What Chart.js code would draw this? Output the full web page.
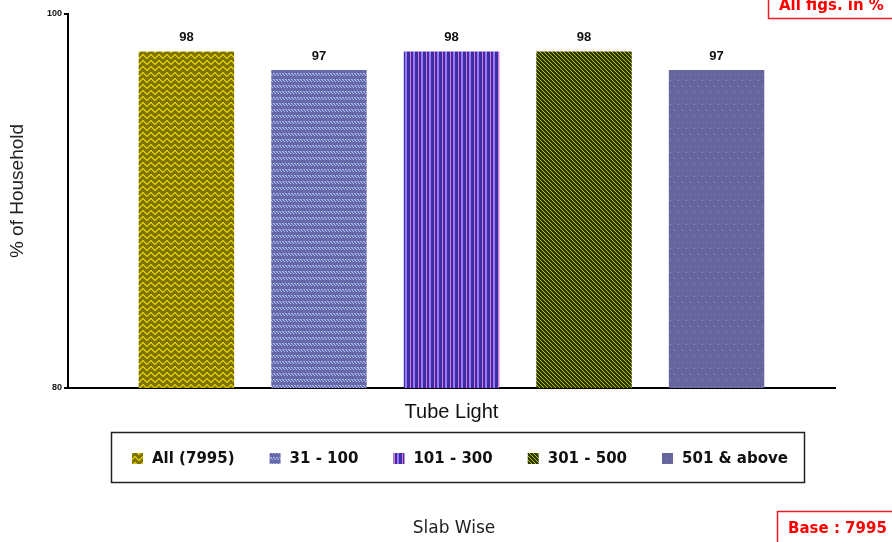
<!DOCTYPE html>
<html>
<head>
<meta charset="utf-8">
<script src="https://cdn.jsdelivr.net/npm/chart.js@4"></script>
<style>
  body { margin: 0; background: #fff; }
  #chart { display: block; }
</style>
</head>
<body>
<canvas id="chart" width="892" height="542"></canvas>
<script>
const categories = ['Tube Light'];
const slabs = ['All (7995)', '31 - 100', '101 - 300', '301 - 500', '501 & above'];
const values = [98, 97, 98, 98, 97];
const yTicks = [80, 100];

const canvas = document.getElementById('chart');
const ctx = canvas.getContext('2d');

function makePattern(w, h, draw) {
  const c = document.createElement('canvas');
  c.width = w; c.height = h;
  const g = c.getContext('2d');
  draw(g);
  return ctx.createPattern(c, 'repeat');
}

function px(g, color, pts) {
  g.fillStyle = color;
  pts.forEach(p => g.fillRect(p[0], p[1], 1, 1));
}

// fill patterns, one per slab
const patterns = [
  // olive / yellow zigzag
  makePattern(8, 6, g => {
    g.fillStyle = '#7e7400'; g.fillRect(0, 0, 8, 6);
    px(g, '#d8c200', [[0,1],[1,2],[2,3],[3,3],[4,2],[5,1],[6,0],[7,0],
                      [0,2],[1,3],[2,4],[3,4],[4,3],[5,2],[6,1],[7,1]]);
  }),
  // slate with light diagonal dashes
  makePattern(6, 6, g => {
    g.fillStyle = '#6868a6'; g.fillRect(0, 0, 6, 6);
    px(g, '#a4c6f8', [[0,1],[1,2],[2,3],[3,1],[4,2],[5,3]]);
    px(g, '#8a9ad8', [[1,1],[4,1]]);
  }),
  // blue with pink / lavender vertical stripes
  makePattern(8, 1, g => {
    g.fillStyle = '#3a2ea8'; g.fillRect(0, 0, 8, 1);
    px(g, '#f070d0', [[2,0]]);
    px(g, '#9c78f4', [[5,0],[6,0]]);
  }),
  // dark olive with yellow-green diagonals
  makePattern(4, 4, g => {
    g.fillStyle = '#343400'; g.fillRect(0, 0, 4, 4);
    px(g, '#a2cc00', [[0,0],[1,1],[2,2],[3,3]]);
  }),
  // slate purple with dots
  makePattern(8, 12, g => {
    g.fillStyle = '#66669c'; g.fillRect(0, 0, 8, 12);
    px(g, '#a090ff', [[2,2],[6,8]]);
  })
];

const valueLabels = {
  id: 'valueLabels',
  afterDatasetsDraw(chart) {
    const c = chart.ctx;
    c.save();
    c.fillStyle = '#111';
    c.font = 'bold 13px "Liberation Sans", Arial, sans-serif';
    c.textAlign = 'center';
    c.textBaseline = 'middle';
    chart.data.datasets.forEach((ds, i) => {
      chart.getDatasetMeta(i).data.forEach((bar, j) => {
        c.fillText(ds.data[j], bar.x, bar.y - 14);
      });
    });
    c.restore();
  }
};

const extras = {
  id: 'extras',
  afterDraw(chart) {
    const c = chart.ctx;
    c.save();

    // y title
    c.fillStyle = '#222';
    c.font = '19px "Liberation Sans", Arial, sans-serif';
    c.textAlign = 'center';
    c.textBaseline = 'middle';
    c.translate(18, 191);
    c.rotate(-Math.PI / 2);
    c.fillText('% of Household', 0, 0);
    c.setTransform(1, 0, 0, 1, 0, 0);

    // legend box
    c.strokeStyle = '#222';
    c.lineWidth = 1.5;
    c.strokeRect(111.5, 432.5, 693, 50);
    c.font = 'bold 15px "DejaVu Sans", Verdana, sans-serif';
    c.textAlign = 'left';
    c.textBaseline = 'middle';
    const sw = 11, gap = 9, spacing = 35;
    const widths = chart.data.datasets.map(ds => sw + gap + c.measureText(ds.label).width);
    let x = 132;
    chart.data.datasets.forEach((ds, i) => {
      c.fillStyle = ds.backgroundColor;
      c.fillRect(x, 453, sw, sw);
      c.fillStyle = '#111';
      c.fillText(ds.label, x + sw + gap, 459);
      x += widths[i] + spacing;
    });

    // bottom caption
    c.fillStyle = '#222';
    c.font = '17px "DejaVu Sans", Verdana, sans-serif';
    c.textAlign = 'center';
    c.textBaseline = 'alphabetic';
    c.fillText('Slab Wise', 454, 533);

    // red notes
    c.strokeStyle = '#ee1c24';
    c.lineWidth = 1.5;
    c.strokeRect(768.5, -2, 130, 20.5);
    c.strokeRect(777.5, 511.5, 120, 40);
    c.fillStyle = '#ff0000';
    c.font = 'bold 15px "DejaVu Sans", Verdana, sans-serif';
    c.textAlign = 'left';
    c.fillText('All figs. in %', 779, 10);
    c.fillText('Base : 7995', 788, 533);

    c.restore();
  }
};

new Chart(canvas, {
  type: 'bar',
  data: {
    labels: categories,
    datasets: slabs.map((s, i) => ({
      label: s,
      data: [values[i]],
      backgroundColor: patterns[i],
      borderWidth: 0,
      categoryPercentage: 0.864,
      barPercentage: 0.72
    }))
  },
  options: {
    responsive: false,
    animation: false,
    devicePixelRatio: 1,
    layout: { padding: { top: 14, right: 57, left: 0, bottom: 0 } },
    plugins: {
      legend: { display: false },
      tooltip: { enabled: false }
    },
    scales: {
      x: {
        afterFit(scale) { scale.height = 154; },
        grid: { drawOnChartArea: false, drawTicks: false },
        border: { display: true, color: '#000', width: 2 },
        ticks: {
          color: '#111',
          padding: 12,
          font: { family: '"Liberation Sans", Arial, sans-serif', size: 20 }
        }
      },
      y: {
        min: 80,
        max: 100,
        afterFit(scale) { scale.width = 68; },
        afterBuildTicks(scale) { scale.ticks = yTicks.map(v => ({ value: v })); },
        grid: { drawOnChartArea: false, tickLength: 4, color: '#000', lineWidth: 2 },
        border: { display: true, color: '#000', width: 2 },
        ticks: {
          color: '#111',
          padding: 2,
          font: { family: '"Liberation Sans", Arial, sans-serif', size: 9, weight: 'bold' }
        }
      }
    }
  },
  plugins: [valueLabels, extras]
});
</script>
</body>
</html>
